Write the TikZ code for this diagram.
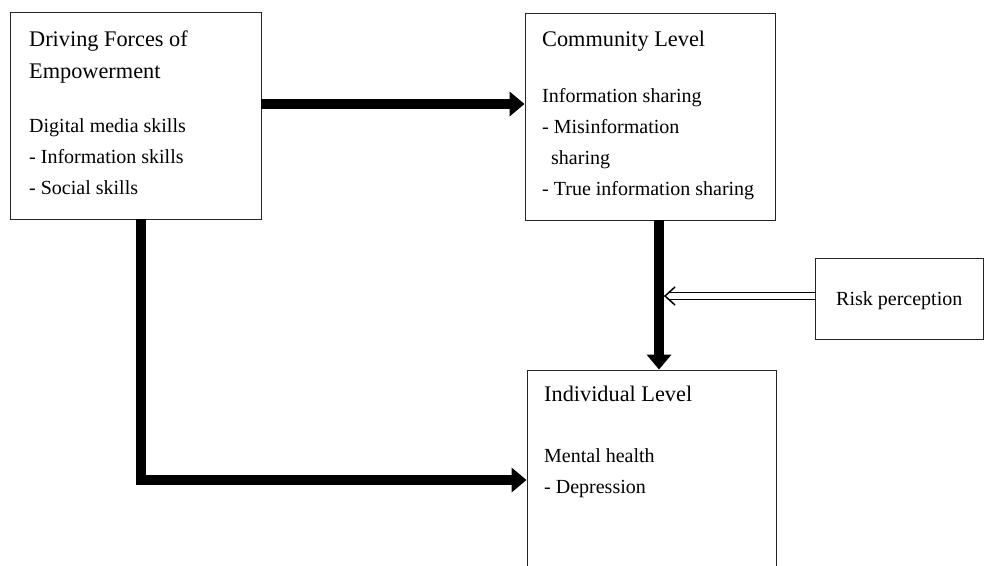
\documentclass[tikz,border=0pt]{standalone}
\usepackage{fontspec}
\setmainfont{Liberation Serif}
\usetikzlibrary{arrows.meta}

\begin{document}
\begin{tikzpicture}[x=1pt,y=-1pt,
	box/.style={draw=black!85, line width=0.9pt, inner sep=0pt},
	head/.style={anchor=north west, inner sep=0pt, align=left, font=\fontsize{22.3}{32.5}\selectfont},
	body/.style={anchor=north west, inner sep=0pt, align=left, font=\fontsize{20}{31.2}\selectfont},
	bigarrow/.style={line width=9.5pt, -{Triangle[length=15pt,width=24pt]}}]
	\useasboundingbox (0,0) rectangle (984,565);
	\clip (0,0) rectangle (984,565);

	% boxes
	\node (drive) [box, minimum width=251pt, minimum height=207pt] at (135.5,115.5) {};
	\node (comm) [box, minimum width=250pt, minimum height=207pt] at (650,116.5) {};
	\node (risk) [box, minimum width=168pt, minimum height=81pt] at (899,298.5) {};
	\node (indiv) [box, minimum width=249pt, minimum height=220pt] at (651.5,480) {};

	% texts
	\node (drivehead) [head] at (29,30.5) {Driving Forces of\\Empowerment};
	\node (drivebody) [body] at (29,118.5) {Digital media skills\\- Information skills\\- Social skills};
	\node (commhead) [head] at (542,30.5) {Community Level};
	\node (commbody) [body] at (542,88) {Information sharing\\- Misinformation\\\hspace{9pt}sharing\\- True information sharing};
	\node (indivhead) [head] at (544,385.5) {Individual Level};
	\node (indivbody) [body] at (544,448) {Mental health\\- Depression};
	\node (risktext) [body, anchor=west] at (836,301) {Risk perception};

	% arrows
	\coordinate (hit) at (665,296);
	\draw [bigarrow] ([yshift=11.5pt]drive.east) -- ([yshift=12.5pt]comm.west);
	\draw [bigarrow] ([xshift=9pt]comm.south) -- ([xshift=9pt]comm.south |- indiv.north);
	\draw [bigarrow] ([xshift=5.5pt]drive.south) |- (indiv.west);
	\draw [double=white, double distance=5.5pt, line width=1.5pt] ([yshift=2.5pt]risk.west) -- ([xshift=4pt]hit);
	\draw [line width=1.5pt] ([shift={(10,-9)}]hit) -- (hit) -- ([shift={(10,9)}]hit);
\end{tikzpicture}
\end{document}
